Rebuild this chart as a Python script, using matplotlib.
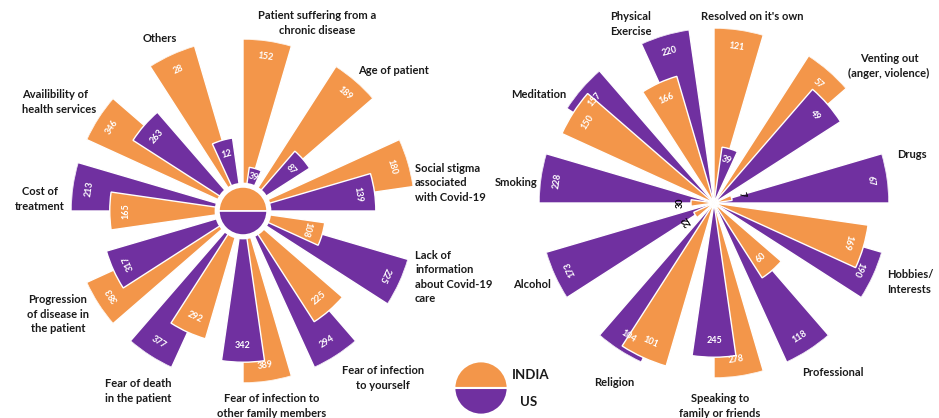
import numpy as np
import matplotlib
import matplotlib.pyplot as plt
from matplotlib.patches import Wedge

matplotlib.use("Agg")

ORANGE = "#F3964A"
PURPLE = "#7030A0"

left_labels = [
    "Patient suffering from a\nchronic disease",
    "Age of patient",
    "Social stigma\nassociated\nwith Covid-19",
    "Lack of\ninformation\nabout Covid-19\ncare",
    "Fear of infection\nto yourself",
    "Fear of infection to\nother family members",
    "Fear of death\nin the patient",
    "Progression\nof disease in\nthe patient",
    "Cost of\ntreatment",
    "Availibility of\nhealth services",
    "Others",
]
left_india = [152, 189, 180, 108, 225, 389, 292, 383, 165, 346, 28]
left_us = [39, 87, 139, 225, 294, 342, 377, 317, 213, 263, 12]

right_labels = [
    "Resolved on it's own",
    "Venting out\n(anger, violence)",
    "Drugs",
    "Hobbies/\nInterests",
    "Professional",
    "Speaking to\nfamily or friends",
    "Religion",
    "Alcohol",
    "Smoking",
    "Meditation",
    "Physical\nExercise",
]
right_india = [121, 57, 7, 169, 60, 278, 101, 22, 30, 150, 166]
right_us = [39, 49, 67, 190, 118, 245, 104, 173, 228, 157, 220]

# label placement in pixels (x, y from top, alignment)
left_label_pos = [
    (317, 23, "center"), (394, 70, "center"), (415, 183, "left"),
    (415, 277, "left"), (383, 378, "center"), (272, 406, "center"),
    (105, 391, "left"), (58, 314, "center"), (40, 199, "center"),
    (22, 102, "left"), (160, 38, "center"),
]
right_label_pos = [
    (752, 16, "center"), (889, 66, "center"), (912, 155, "center"),
    (887, 282, "left"), (833, 373, "center"), (720, 406, "center"),
    (614, 382, "center"), (532, 284, "center"), (516, 183, "center"),
    (539, 95, "center"), (610, 24, "left"),
]

W, H = 939, 418
FONT = "Lato"

fig = plt.figure(figsize=(W / 100, H / 100), dpi=100)


def label_rotation(theta_deg):
    rot = (-theta_deg + 180) % 360 - 180
    if abs(rot) > 125:
        rot = rot - 180 if rot > 0 else rot + 180
    return rot


def rose(cx, cy, rmax, india, us, center_disc):
    ax = fig.add_axes([(cx - rmax) / W, (H - cy - rmax) / H, 2 * rmax / W, 2 * rmax / H],
                      projection="polar")
    ax.set_theta_zero_location("N")
    ax.set_theta_direction(-1)
    ax.set_ylim(0, 1)
    ax.axis("off")

    n = len(india)
    step = 360 / n
    width = step / 2
    for k in range(n):
        top = max(india[k], us[k])
        bars = [
            (india[k], k * step + width / 2, ORANGE),
            (us[k], k * step + width, PURPLE),
        ]
        # larger bar first so the smaller one sits on top
        bars.sort(key=lambda b: -b[0])
        for val, ang, col in bars:
            r = val / top
            ax.bar(np.deg2rad(ang), r, width=np.deg2rad(width), bottom=0,
                   color=col, edgecolor="white", linewidth=1.0, zorder=2)
            if r > 0.2:
                rl = r - min(0.095, 0.2 * r)
                tc = "white"
            else:
                rl = r + 0.06
                tc = "black"
            ax.text(np.deg2rad(ang), rl, str(val), color=tc, fontsize=6.5,
                    fontweight="bold", family=FONT, ha="center", va="center",
                    rotation=label_rotation(ang), rotation_mode="anchor", zorder=5)

    if center_disc:
        ax.bar(0, 0.165, width=2 * np.pi, bottom=0, color="white", zorder=3)
        ax.bar(0, 0.14, width=np.pi, bottom=0, color=ORANGE,
               edgecolor="white", linewidth=1.2, zorder=4)
        ax.bar(np.pi, 0.14, width=np.pi, bottom=0, color=PURPLE,
               edgecolor="white", linewidth=1.2, zorder=4)
    return ax


rose(243, 211, 172, left_india, left_us, True)
rose(714, 203, 175, right_india, right_us, False)

for labels, positions in [(left_labels, left_label_pos), (right_labels, right_label_pos)]:
    for text, (x, y, ha) in zip(labels, positions):
        fig.text(x / W, 1 - y / H, text, ha=ha, va="center", fontsize=8,
                 fontweight="bold", family=FONT, color="#1a1a1a", linespacing=1.35,
                 multialignment=ha)

# legend
lax = fig.add_axes([(481 - 28) / W, (H - 388 - 28) / H, 56 / W, 56 / H])
lax.set_xlim(-1.05, 1.05)
lax.set_ylim(-1.05, 1.05)
lax.set_aspect("equal")
lax.axis("off")
lax.add_patch(Wedge((0, 0), 1, 0, 180, facecolor=ORANGE, edgecolor="white", linewidth=1.5))
lax.add_patch(Wedge((0, 0), 1, 180, 360, facecolor=PURPLE, edgecolor="white", linewidth=1.5))
fig.text(531 / W, 1 - 375 / H, "INDIA", ha="center", va="center", fontsize=9.5,
         fontweight="bold", family=FONT, color="#1a1a1a")
fig.text(529 / W, 1 - 402 / H, "US", ha="center", va="center", fontsize=9.5,
         fontweight="bold", family=FONT, color="#1a1a1a")

fig.savefig("out.png", dpi=100, facecolor="white")
